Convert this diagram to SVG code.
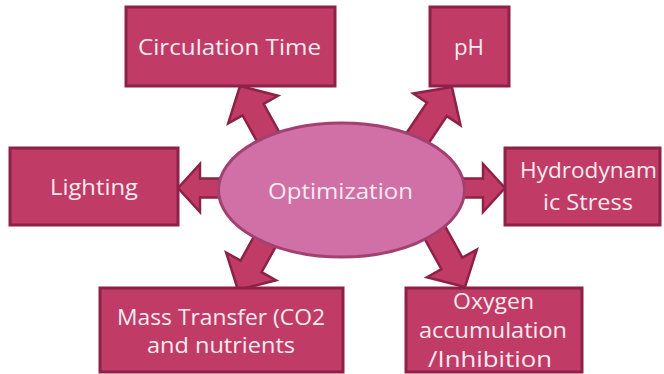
<svg xmlns="http://www.w3.org/2000/svg" xmlns:xlink="http://www.w3.org/1999/xlink" width="664" height="374" viewBox="0 0 664 374">
<style>
.box{fill:#C03B66;stroke:#8E2147;stroke-width:3}
.arr{fill:#C03B66;stroke:#8E2147;stroke-width:2.5;stroke-linejoin:miter}
.ell{fill:#D070A6;stroke:#A2416F;stroke-width:3}
.t{font-family:"Open Sans","DejaVu Sans",sans-serif;font-size:22px;fill:#F8EAF0;text-anchor:middle}
</style>
<defs>
<path id="diag" d="M0,0 L-27,28.5 L-27,12 L-72,12 L-72,-12 L-27,-12 L-27,-28.5 Z"/>
<path id="horz" d="M0,0 L-22,24 L-22,9.5 L-52,9.5 L-52,-9.5 L-22,-9.5 L-22,-24 Z"/>
</defs>
<rect width="664" height="374" fill="#FFFFFF"/>
<g id="connectors">
<use xlink:href="#diag" class="arr" transform="translate(240,86) rotate(-119)"/>
<use xlink:href="#diag" class="arr" transform="translate(452,87) rotate(-56)"/>
<use xlink:href="#horz" class="arr" transform="translate(178,188) rotate(180)"/>
<use xlink:href="#horz" class="arr" transform="translate(505,188)"/>
<use xlink:href="#diag" class="arr" transform="translate(238,290) rotate(119)"/>
<use xlink:href="#diag" class="arr" transform="translate(465,287) rotate(61)"/>
</g>
<g id="optimization">
<ellipse class="ell" cx="341.5" cy="190" rx="123" ry="67"/>
<text class="t" x="340.5" y="199" textLength="145" lengthAdjust="spacingAndGlyphs">Optimization</text>
</g>
<g id="circulation-time">
<rect class="box" x="126" y="7" width="209" height="79"/>
<text class="t" x="229.5" y="55" textLength="183" lengthAdjust="spacingAndGlyphs">Circulation Time</text>
</g>
<g id="ph">
<rect class="box" x="430" y="7" width="79" height="79"/>
<text class="t" x="469" y="55" textLength="30" lengthAdjust="spacingAndGlyphs">pH</text>
</g>
<g id="lighting">
<rect class="box" x="10" y="148" width="168" height="77"/>
<text class="t" x="94" y="195" textLength="88" lengthAdjust="spacingAndGlyphs">Lighting</text>
</g>
<g id="hydrodynamic-stress">
<rect class="box" x="505" y="148" width="155" height="77"/>
<text class="t" x="588.5" y="178" textLength="137" lengthAdjust="spacingAndGlyphs">Hydrodynam</text>
<text class="t" x="588" y="210" textLength="90" lengthAdjust="spacingAndGlyphs">ic Stress</text>
</g>
<g id="mass-transfer">
<rect class="box" x="100" y="288" width="243" height="84"/>
<text class="t" x="221" y="325" textLength="208" lengthAdjust="spacingAndGlyphs">Mass Transfer (CO2</text>
<text class="t" x="221" y="353" textLength="148" lengthAdjust="spacingAndGlyphs">and nutrients</text>
</g>
<g id="oxygen">
<rect class="box" x="406" y="288" width="176" height="84"/>
<text class="t" x="493.5" y="309" textLength="81" lengthAdjust="spacingAndGlyphs">Oxygen</text>
<text class="t" x="493" y="338" textLength="148" lengthAdjust="spacingAndGlyphs">accumulation</text>
<text class="t" x="490" y="367" textLength="124" lengthAdjust="spacingAndGlyphs">/Inhibition</text>
</g>
</svg>
